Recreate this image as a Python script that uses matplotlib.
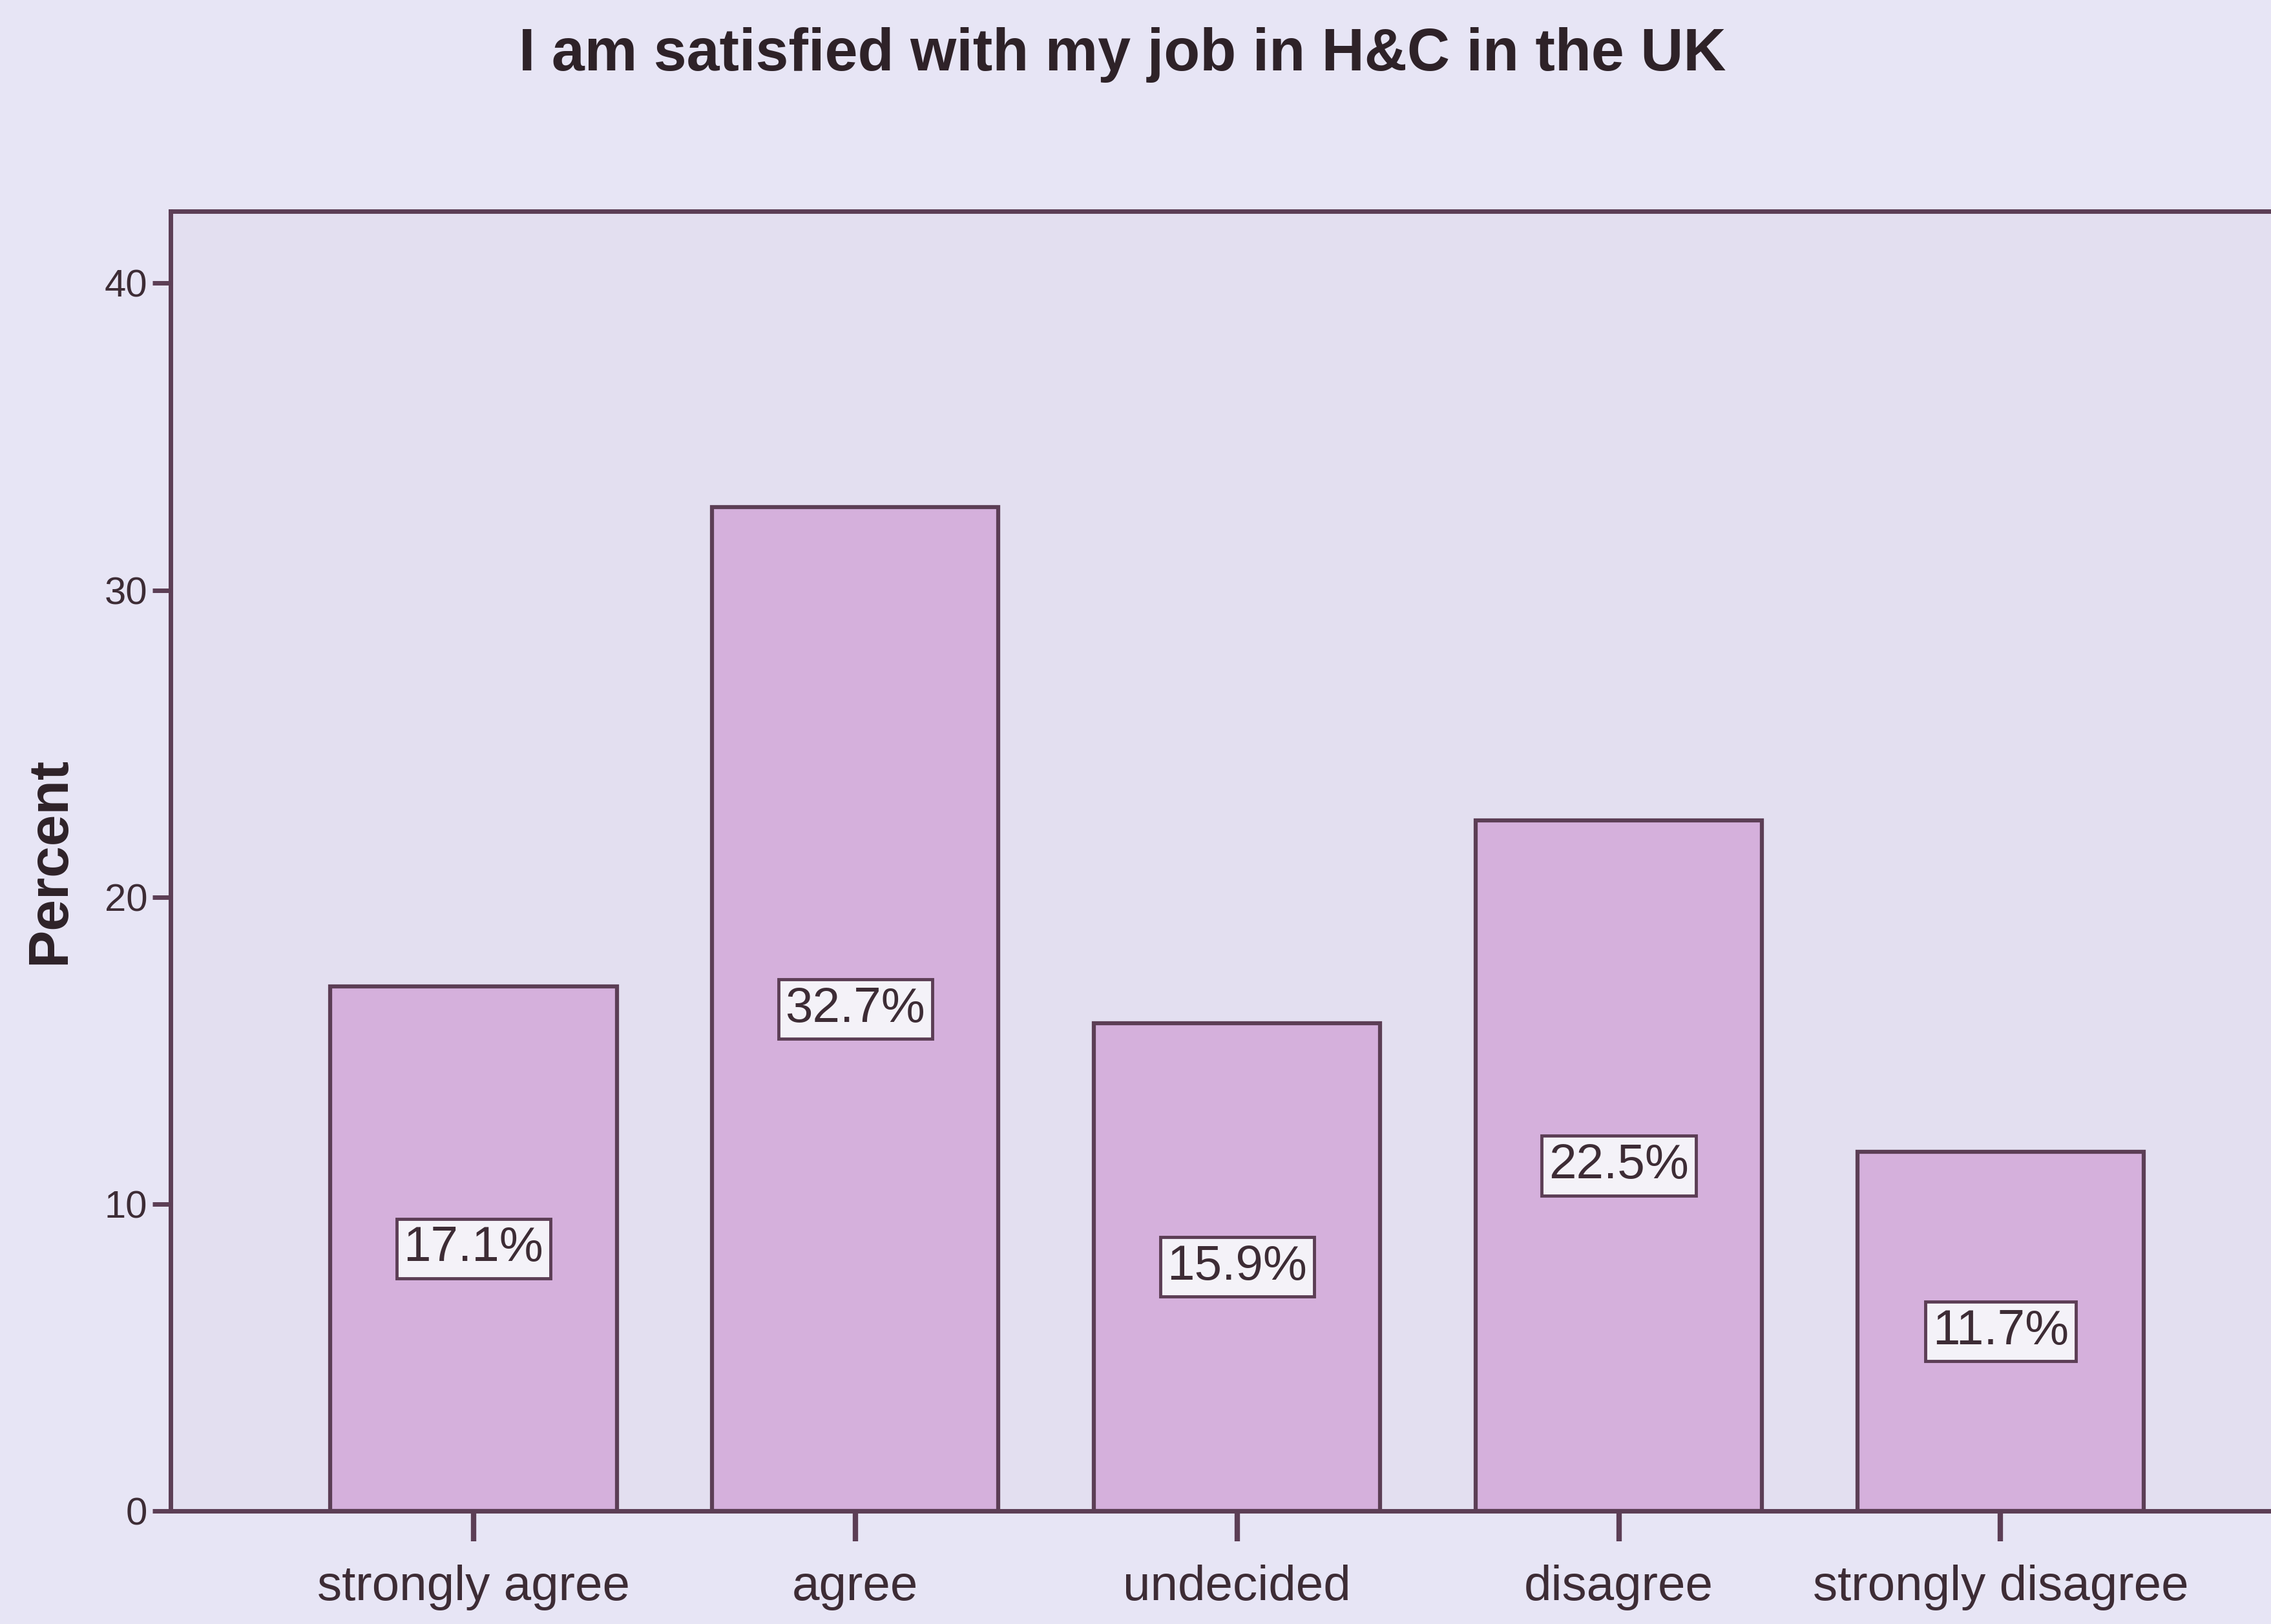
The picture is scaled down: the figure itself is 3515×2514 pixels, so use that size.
import matplotlib.pyplot as plt

# Survey answers and their share of respondents (%)
categories = ["strongly agree", "agree", "undecided", "disagree", "strongly disagree"]
percents = [17.1, 32.7, 15.9, 22.5, 11.7]
y_ticks = [0, 10, 20, 30, 40]
title = "I am satisfied with my job in H&C in the UK"

SANS = ["Liberation Sans", "DejaVu Sans"]

ink = "#3d2c35"
edge = "#5c3e55"

fig = plt.figure(figsize=(35.16, 25.14), dpi=100, facecolor="#e7e5f5")
ax = fig.add_axes([0.0752, 0.0696, 0.9248, 0.8004])
ax.set_facecolor("#e3dff0")

x = list(range(len(categories)))
ax.bar(x, percents, width=0.75, color="#d5b0dc", edgecolor=edge, linewidth=4.5, zorder=2)

# value boxes sit half way up each bar
for xi, v in zip(x, percents):
    ax.text(xi, v / 2, f"{v}%", ha="center", va="center", fontsize=55,
            family=SANS, color=ink, zorder=3,
            bbox=dict(boxstyle="square,pad=0.14", fc="#f4f2f8", ec=edge, lw=3.5))

ax.set_xlim(-0.793, 4.71)
ax.set_ylim(0, 42.35)
ax.set_xticks(x)
ax.set_xticklabels(categories, family=SANS, fontsize=55, color=ink)
ax.set_yticks(y_ticks)
ax.set_yticklabels([str(t) for t in y_ticks], family=SANS, fontsize=43, color=ink)

ax.tick_params(axis="x", length=34, width=6, color=edge, pad=26)
ax.tick_params(axis="y", length=20, width=5, color=edge, pad=6)

for side in ["left", "bottom", "top"]:
    ax.spines[side].set_color(edge)
    ax.spines[side].set_linewidth(5)
ax.spines["right"].set_visible(False)

ax.set_ylabel("Percent", family=SANS, fontweight="bold", fontsize=63,
              color="#2e2228", va="center")
ax.yaxis.set_label_coords(-0.0575, 0.5)

fig.text(0.494, 0.966, title, ha="center", va="center", fontsize=66,
         fontweight="bold", family=SANS, color="#2e2228")

fig.savefig("out.png", dpi=100, facecolor=fig.get_facecolor())
